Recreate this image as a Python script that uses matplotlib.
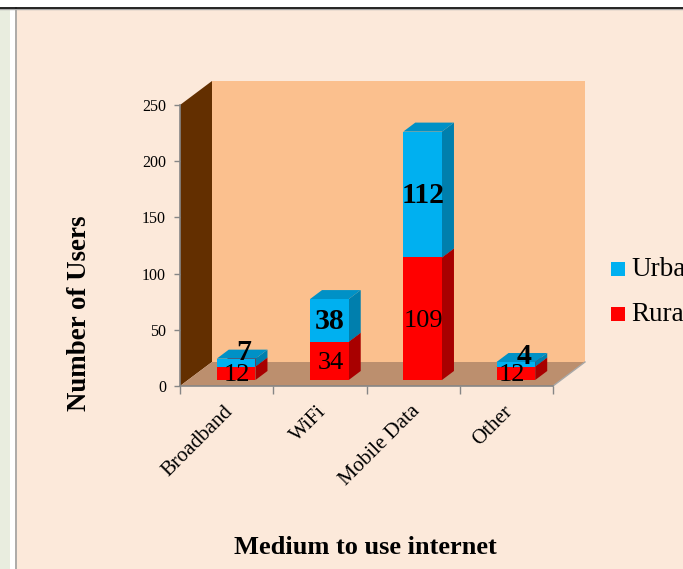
import matplotlib.pyplot as plt
from matplotlib.patches import Polygon, Rectangle

plt.rcParams["font.family"] = ["Liberation Serif", "DejaVu Serif"]

categories = ["Broadband", "WiFi", "Mobile Data", "Other"]
rural = [12, 34, 109, 12]
urban = [7, 38, 112, 4]
y_ticks = [0, 50, 100, 150, 200, 250]

W, H = 683, 569
PLOT_L, PLOT_R, PLOT_T, PLOT_B = 180, 553, 105, 386

# depth of the box and of the bars, in pixels
WALL_DX, WALL_DY = 32, 24
BAR_DX, BAR_DY = 12, 9
BAR_SHIFT_X, BAR_SHIFT_Y = 9.5, 6
BAR_W = 0.415

BLUE = ("#00B0F0", "#007FAD", "#0091C6")
RED = ("#FF0000", "#A80000", "#C60000")
# small segments get their label pushed up onto the top face
URBAN_LABEL_NUDGE = {0: (8, 10), 3: (8, 8)}


def box(ax, x0, x1, v0, v1, colors, sx, sy):
    front, side, top = colors
    ax.add_patch(Polygon([(x1, v0), (x1 + BAR_DX * sx, v0 + BAR_DY * sy),
                          (x1 + BAR_DX * sx, v1 + BAR_DY * sy), (x1, v1)],
                         facecolor=side, edgecolor="none", clip_on=False, zorder=3))
    ax.add_patch(Polygon([(x0, v1), (x1, v1), (x1 + BAR_DX * sx, v1 + BAR_DY * sy),
                          (x0 + BAR_DX * sx, v1 + BAR_DY * sy)],
                         facecolor=top, edgecolor="none", clip_on=False, zorder=3))
    ax.add_patch(Rectangle((x0, v0), x1 - x0, v1 - v0, facecolor=front,
                           edgecolor="none", clip_on=False, zorder=3))


fig = plt.figure(figsize=(W / 100, H / 100), dpi=100, facecolor="white")

# page furniture behind the chart
bg = fig.add_axes([0, 0, 1, 1], zorder=0)
bg.set_xlim(0, W)
bg.set_ylim(H, 0)
bg.axis("off")
bg.add_patch(Rectangle((0, 8), 10, H, facecolor="#E9EDDF", edgecolor="none"))
bg.add_patch(Rectangle((15, 8), W, H, facecolor="#FCE9DA", edgecolor="none"))
bg.plot([15.5, 15.5], [8, H], color="#A0A0A0", lw=1.2)
bg.plot([0, W], [8.6, 8.6], color="#A8A8A8", lw=1)
bg.plot([0, W], [7.5, 7.5], color="black", lw=1.2)

ax = fig.add_axes([PLOT_L / W, 1 - PLOT_B / H, (PLOT_R - PLOT_L) / W, (PLOT_B - PLOT_T) / H],
                  zorder=1)
ax.set_xlim(0, len(categories))
ax.set_ylim(0, y_ticks[-1])
ax.patch.set_visible(False)
sx = len(categories) / (PLOT_R - PLOT_L)
sy = y_ticks[-1] / (PLOT_B - PLOT_T)
xmax, ymax = len(categories), y_ticks[-1]
dx, dy = WALL_DX * sx, WALL_DY * sy

# back wall, side wall and floor
ax.add_patch(Polygon([(dx, dy), (xmax + dx, dy), (xmax + dx, ymax + dy), (dx, ymax + dy)],
                     facecolor="#FBC08E", edgecolor="none", clip_on=False, zorder=1))
ax.add_patch(Polygon([(0, 0), (dx, dy), (dx, ymax + dy), (0, ymax)],
                     facecolor="#632F00", edgecolor="none", clip_on=False, zorder=1))
ax.add_patch(Polygon([(0, 0), (xmax, 0), (xmax + dx, dy), (dx, dy)],
                     facecolor="#BC8F6E", edgecolor="none", clip_on=False, zorder=1))
ax.plot([xmax, xmax + dx], [0, dy], color="#A8A8A8", lw=1, clip_on=False, zorder=2)

for i, (r, u) in enumerate(zip(rural, urban)):
    c = i + 0.5 + BAR_SHIFT_X * sx
    base = BAR_SHIFT_Y * sy
    x0, x1 = c - BAR_W / 2, c + BAR_W / 2
    box(ax, x0, x1, base, base + r, RED, sx, sy)
    box(ax, x0, x1, base + r, base + r + u, BLUE, sx, sy)

    rural_nudge = (-4 if i == 3 else 1, -2)
    ax.annotate(str(r), (c, base + r / 2), xytext=rural_nudge, textcoords="offset pixels",
                ha="center", va="center", fontsize=19, color="black", zorder=5,
                annotation_clip=False)
    ax.annotate(str(u), (c, base + r + u / 2), xytext=URBAN_LABEL_NUDGE.get(i, (0, -1)),
                textcoords="offset pixels", ha="center", va="center", fontsize=21.5,
                fontweight="bold", color="black", zorder=5, annotation_clip=False)

for side in ("top", "right"):
    ax.spines[side].set_visible(False)
for side in ("left", "bottom"):
    ax.spines[side].set_color("#868686")
    ax.spines[side].set_linewidth(1.2)
    ax.spines[side].set_zorder(2)

ax.set_yticks(y_ticks)
ax.set_xticks(range(len(categories) + 1))
ax.set_xticklabels([])
ax.tick_params(axis="y", length=4, width=1, color="#868686", labelsize=11.5, pad=6)
ax.tick_params(axis="x", length=6, width=1, color="#868686")

for i, name in enumerate(categories):
    ax.annotate(name, (i + 0.5, 0), xytext=(-3, -16), textcoords="offset pixels",
                rotation=45, rotation_mode="anchor", ha="right", va="top",
                fontsize=15, color="black", annotation_clip=False)

bg.text(365, 548, "Medium to use internet", ha="center", va="center",
        fontsize=19, fontweight="bold")
bg.text(79, 313, "Number of Users", rotation=90, ha="center", va="center",
        fontsize=19.4, fontweight="bold")

# legend is placed by hand, it runs off the right edge
for y, color, label in [(262, BLUE[0], "Urban"), (307, RED[0], "Rural")]:
    bg.add_patch(Rectangle((611, y), 14, 14, facecolor=color, edgecolor="none"))
    bg.text(631, y + 7, label, va="center", ha="left", fontsize=19.5)

fig.savefig("out.png", dpi=100)
